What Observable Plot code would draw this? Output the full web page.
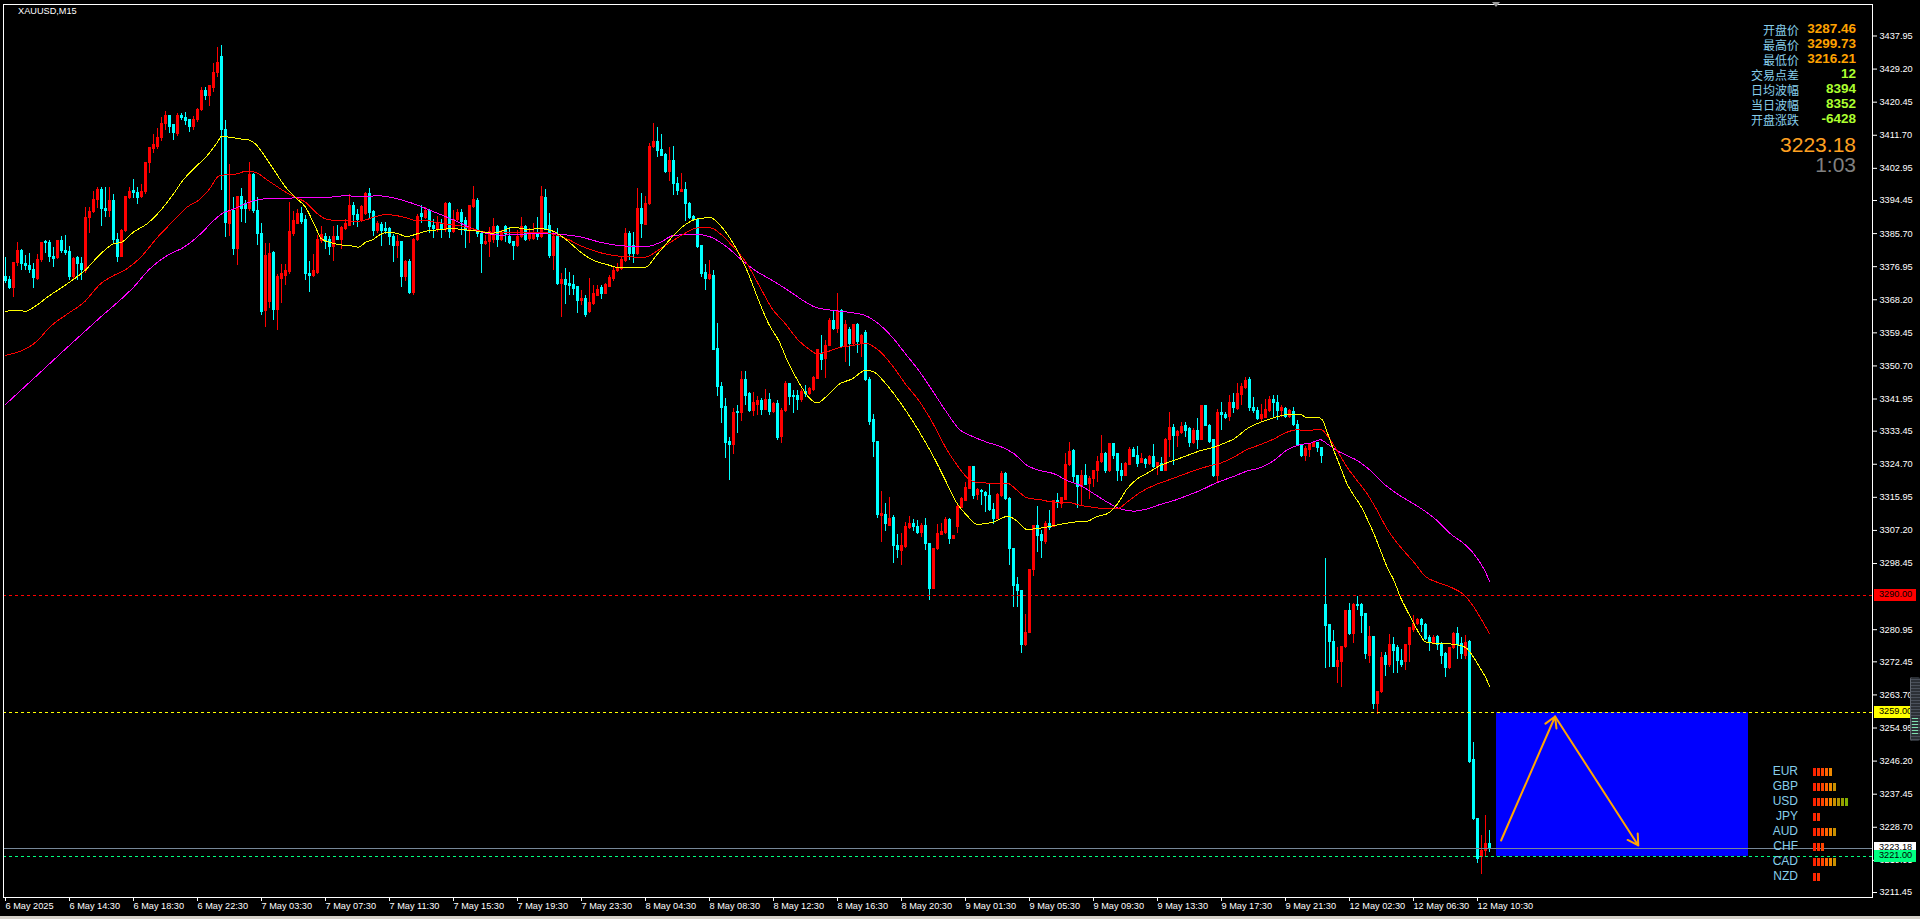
<!DOCTYPE html>
<html><head><meta charset="utf-8">
<script src="https://cdn.jsdelivr.net/npm/d3@7"></script>
<script src="https://cdn.jsdelivr.net/npm/@observablehq/plot@0.6"></script>
<style>
html,body{margin:0;padding:0;background:#000;overflow:hidden;}
#wrap{position:relative;width:1920px;height:919px;background:#000;}
#wrap svg{position:absolute;left:0;top:0;}
.ov{position:absolute;white-space:nowrap;}
</style></head><body><div id="wrap"></div>
<script>
// ---- XAUUSD M15 candles (bar index 0 = 6 May 10:30) ----
const open = [
3374.3,3373.3,3371.3,3377.9,3381.0,3377.7,3377.1,3376.0,3373.6,3378.6,
3383.6,3383.3,3379.6,3379.3,3383.8,3381.2,3380.8,3374.3,3379.2,3377.7,
3375.9,3389.8,3391.3,3394.6,3397.1,3392.3,3391.6,3394.4,3384.0,3379.6,
3386.5,3395.1,3397.0,3396.5,3395.3,3396.6,3404.3,3408.0,3408.7,3410.9,
3414.7,3416.9,3414.3,3412.0,3416.9,3416.3,3415.8,3413.8,3415.8,3418.4,
3423.3,3422.0,3424.2,3428.1,3432.4,3413.0,3388.3,3391.8,3381.6,3395.5,
3393.5,3392.2,3401.1,3391.8,3385.6,3365.2,3367.6,3380.5,3365.4,3373.8,
3374.6,3375.5,3385.6,3388.3,3390.9,3389.2,3375.1,3374.6,3375.3,3383.7,
3384.9,3383.9,3382.1,3384.9,3384.0,3386.9,3387.8,3393.1,3390.5,3389.2,
3390.9,3396.2,3391.4,3386.3,3388.1,3387.0,3387.0,3384.9,3382.5,3383.6,
3374.2,3378.3,3370.0,3384.1,3390.8,3389.9,3391.6,3387.8,3387.0,3388.3,
3386.7,3393.6,3386.1,3389.2,3391.1,3388.9,3386.5,3392.7,3394.4,3385.6,
3383.0,3383.4,3383.9,3387.4,3384.0,3387.4,3384.9,3383.4,3382.3,3384.9,
3387.4,3384.3,3384.3,3385.5,3384.9,3395.2,3387.6,3379.9,3384.8,3372.4,
3373.3,3372.4,3372.2,3371.5,3367.8,3368.4,3364.9,3367.1,3369.3,3371.3,
3369.8,3371.7,3373.7,3375.7,3376.4,3378.4,3385.5,3382.5,3380.2,3392.2,
3388.1,3393.4,3408.7,3409.9,3407.8,3406.6,3401.9,3405.0,3398.9,3396.7,
3397.1,3393.6,3390.2,3389.3,3382.3,3375.2,3373.6,3374.6,3355.2,3345.1,
3339.8,3330.5,3329.7,3338.5,3338.2,3346.9,3343.3,3338.9,3340.5,3341.3,
3339.1,3341.8,3338.4,3340.7,3331.9,3338.7,3345.8,3342.7,3342.7,3341.6,
3343.9,3343.2,3344.4,3347.3,3353.5,3352.6,3356.1,3362.5,3360.5,3365.2,
3355.7,3360.2,3356.4,3361.4,3356.6,3359.4,3346.9,3336.3,3330.5,3310.9,
3311.4,3308.5,3310.5,3303.2,3301.7,3302.9,3307.9,3308.8,3308.2,3306.5,
3308.5,3303.6,3291.8,3302.2,3306.1,3306.5,3310.0,3305.0,3308.1,3313.2,
3315.1,3318.2,3323.9,3316.7,3317.6,3317.0,3316.4,3312.6,3310.3,3316.4,
3322.2,3315.5,3302.3,3292.9,3291.3,3276.8,3280.1,3296.8,3308.4,3305.9,
3304.1,3308.8,3308.2,3315.1,3314.2,3315.3,3324.4,3328.1,3321.5,3318.8,
3321.5,3319.5,3320.7,3322.9,3325.2,3327.3,3322.8,3330.1,3327.3,3323.0,
3321.7,3324.6,3328.6,3327.0,3325.1,3325.7,3324.8,3326.6,3324.1,3324.8,
3323.0,3331.0,3334.2,3332.3,3332.9,3334.7,3334.1,3330.3,3333.6,3331.2,
3340.0,3334.9,3331.0,3321.5,3338.2,3337.8,3337.1,3340.9,3339.2,3342.9,
3344.9,3347.0,3339.6,3338.9,3336.7,3337.0,3338.9,3341.6,3340.9,3338.7,
3339.4,3337.1,3338.5,3335.2,3329.7,3327.0,3328.6,3329.2,3330.3,3329.0,
3287.46,3282.1,3277.7,3271.2,3272.4,3276.3,3285.8,3279.9,3287.5,3287.5,
3285.0,3274.1,3279.1,3261.3,3264.4,3274.1,3271.5,3277.0,3276.1,3272.8,
3272.4,3276.8,3280.9,3282.4,3283.4,3282.3,3278.7,3277.4,3279.0,3277.0,
3274.4,3270.8,3276.1,3279.7,3277.2,3274.1,3277.7,3246.4,3230.9,3220.8,
3222.5,3224.3
];
const high = [
3379.4,3374.3,3378.0,3383.3,3381.5,3379.9,3380.5,3377.7,3380.1,3383.3,
3383.9,3383.9,3382.1,3384.0,3384.9,3385.2,3382.3,3379.4,3379.6,3379.4,
3392.7,3392.7,3396.8,3397.9,3397.9,3398.0,3397.9,3396.0,3385.6,3386.7,
3395.3,3398.0,3400.0,3398.0,3398.8,3404.3,3408.3,3412.0,3413.4,3416.3,
3418.0,3417.0,3414.5,3417.4,3417.4,3417.8,3416.0,3416.7,3418.7,3424.4,
3424.4,3424.6,3430.6,3435.0,3435.5,3415.6,3404.0,3395.3,3395.5,3397.5,
3394.5,3404.6,3401.5,3395.2,3388.3,3383.0,3383.0,3381.0,3375.0,3377.5,
3377.5,3394.0,3391.5,3392.2,3392.7,3390.5,3378.3,3380.2,3385.2,3387.6,
3385.6,3384.9,3387.6,3387.8,3387.6,3389.3,3396.0,3394.0,3392.2,3393.1,
3396.6,3397.5,3391.8,3389.0,3388.7,3388.5,3387.2,3385.4,3385.2,3383.6,
3378.6,3378.9,3384.3,3390.8,3393.1,3392.7,3392.2,3389.5,3390.2,3389.3,
3394.0,3393.8,3391.8,3392.0,3392.0,3390.0,3393.1,3398.1,3394.9,3385.8,
3385.2,3387.4,3389.6,3387.8,3386.5,3387.8,3387.4,3383.6,3386.5,3390.0,
3387.8,3387.0,3388.3,3390.0,3398.1,3397.4,3390.9,3386.1,3387.0,3375.1,
3376.4,3375.5,3374.6,3371.6,3370.6,3369.3,3373.7,3372.0,3372.1,3372.1,
3372.4,3374.6,3376.8,3377.7,3379.5,3387.0,3386.3,3386.1,3397.5,3396.2,
3395.5,3409.6,3414.9,3413.7,3411.9,3406.8,3408.4,3408.6,3400.6,3401.7,
3399.3,3394.0,3390.5,3389.5,3382.5,3377.5,3378.6,3375.9,3361.8,3346.4,
3342.0,3331.7,3339.4,3340.2,3349.1,3349.3,3343.8,3343.8,3342.7,3342.0,
3344.4,3343.3,3341.1,3341.6,3339.4,3346.7,3346.0,3344.2,3344.2,3344.4,
3345.5,3345.1,3347.9,3354.9,3358.7,3357.4,3363.2,3365.2,3369.8,3365.5,
3362.7,3360.8,3361.7,3362.0,3359.0,3360.1,3347.7,3337.9,3330.6,3317.6,
3314.4,3315.8,3311.2,3306.1,3306.3,3309.4,3311.0,3310.0,3309.7,3309.1,
3310.3,3303.7,3302.5,3308.9,3309.1,3310.7,3310.3,3305.9,3314.1,3316.0,
3320.0,3324.2,3324.2,3318.2,3317.9,3317.4,3319.5,3314.2,3316.9,3322.9,
3322.6,3316.0,3302.4,3294.8,3291.4,3285.0,3296.9,3308.5,3313.5,3307.2,
3309.6,3312.6,3315.0,3317.0,3316.0,3327.5,3330.5,3328.5,3321.7,3323.0,
3324.6,3321.5,3323.0,3326.7,3332.3,3327.9,3330.3,3330.3,3327.3,3325.0,
3325.2,3329.2,3329.2,3329.4,3327.5,3326.1,3327.0,3329.9,3325.2,3326.4,
3331.4,3338.5,3335.2,3333.6,3335.8,3335.7,3334.5,3334.2,3336.7,3340.2,
3340.1,3335.2,3331.2,3339.3,3341.1,3338.5,3342.9,3343.3,3346.0,3346.0,
3347.7,3347.7,3342.3,3339.8,3340.5,3341.7,3342.6,3342.9,3342.9,3340.2,
3339.6,3339.1,3339.8,3336.3,3329.9,3329.4,3330.3,3330.5,3330.5,3329.2,
3299.73,3282.2,3280.7,3276.3,3276.4,3286.0,3287.8,3287.8,3289.7,3287.8,
3285.1,3281.8,3279.2,3264.6,3275.0,3275.0,3279.7,3278.9,3276.8,3275.8,
3277.1,3281.4,3284.7,3283.8,3283.8,3282.5,3279.4,3279.4,3279.4,3277.6,
3275.0,3276.3,3280.3,3281.4,3279.0,3279.4,3278.0,3251.2,3231.0,3226.5,
3231.8,3227.8
];
const low = [
3372.6,3371.0,3368.9,3377.0,3376.0,3376.0,3375.2,3371.3,3373.3,3378.0,
3380.5,3378.1,3376.6,3378.8,3380.5,3380.0,3373.4,3373.6,3373.3,3373.4,
3375.2,3385.6,3391.1,3392.3,3387.6,3390.0,3390.0,3383.0,3378.1,3379.3,
3386.0,3394.6,3395.0,3393.3,3395.0,3396.0,3401.5,3407.0,3408.0,3410.0,
3413.0,3412.2,3410.3,3411.3,3415.6,3414.4,3412.5,3413.0,3415.0,3418.0,
3421.0,3419.3,3423.0,3427.0,3397.0,3384.7,3385.0,3380.0,3377.2,3388.7,
3388.4,3391.5,3391.0,3382.5,3364.0,3360.9,3366.0,3362.6,3360.0,3367.1,
3372.0,3375.0,3385.0,3388.0,3388.0,3373.3,3370.0,3374.1,3375.0,3383.0,
3381.4,3379.9,3378.3,3383.9,3381.4,3386.5,3387.5,3387.8,3387.4,3388.5,
3390.5,3389.6,3385.0,3385.8,3382.3,3385.5,3382.5,3378.0,3379.0,3371.5,
3373.0,3369.6,3369.3,3383.5,3388.3,3389.5,3385.6,3384.3,3386.0,3384.3,
3386.0,3384.3,3385.6,3388.8,3385.2,3381.7,3383.0,3392.3,3384.7,3375.2,
3382.5,3379.5,3383.0,3381.9,3383.5,3383.4,3382.8,3378.6,3382.0,3384.5,
3383.5,3383.7,3384.0,3383.9,3384.5,3386.5,3379.0,3375.9,3372.0,3363.6,
3366.9,3369.3,3369.3,3364.5,3366.7,3363.6,3364.5,3366.8,3369.0,3368.4,
3369.5,3371.4,3372.9,3375.4,3376.0,3378.0,3378.6,3377.7,3379.8,3384.3,
3387.8,3393.0,3408.1,3405.9,3406.0,3401.5,3399.6,3395.8,3395.8,3396.5,
3389.0,3389.5,3388.9,3381.8,3374.2,3370.6,3373.3,3354.8,3342.7,3335.4,
3326.1,3320.4,3327.2,3332.9,3336.1,3340.2,3338.5,3337.2,3337.6,3337.6,
3338.8,3337.6,3338.0,3331.0,3330.3,3338.4,3340.2,3338.2,3338.9,3340.9,
3342.4,3342.8,3344.0,3347.0,3349.5,3347.3,3355.8,3360.2,3359.2,3355.5,
3351.7,3350.6,3356.0,3353.9,3353.0,3346.5,3334.9,3326.6,3310.3,3304.1,
3307.0,3308.2,3298.4,3299.7,3297.9,3302.5,3307.5,3306.8,3306.2,3305.4,
3301.9,3288.7,3291.5,3302.0,3305.8,3306.2,3303.6,3304.7,3306.3,3312.9,
3314.8,3318.0,3315.3,3315.1,3313.8,3312.0,3312.3,3308.8,3310.0,3316.0,
3315.0,3297.9,3286.7,3286.7,3274.6,3276.6,3279.9,3295.0,3301.4,3299.7,
3303.6,3307.2,3308.0,3312.9,3312.9,3315.0,3324.0,3320.0,3312.9,3313.8,
3319.0,3315.3,3318.6,3320.0,3325.0,3322.2,3322.5,3325.9,3320.2,3320.2,
3321.5,3324.3,3326.4,3323.9,3324.9,3323.7,3324.5,3323.5,3321.7,3322.9,
3322.8,3326.6,3324.4,3329.2,3332.7,3331.9,3329.0,3330.0,3328.6,3331.0,
3334.6,3330.2,3321.2,3320.0,3333.6,3336.5,3336.1,3338.0,3339.0,3340.2,
3344.5,3338.7,3338.0,3336.3,3336.1,3336.8,3338.5,3337.1,3336.3,3337.1,
3336.9,3336.8,3334.7,3329.4,3326.4,3325.5,3326.4,3329.0,3327.9,3325.0,
3270.8,3271.0,3271.0,3266.6,3265.7,3276.0,3279.5,3277.4,3286.0,3279.9,
3273.2,3271.9,3259.8,3258.5,3264.0,3268.6,3271.0,3269.3,3269.3,3271.0,
3270.2,3272.4,3280.3,3282.0,3280.3,3278.1,3275.2,3277.0,3275.4,3271.7,
3268.4,3270.5,3275.8,3273.1,3273.2,3273.2,3245.6,3230.5,3219.0,3216.21,
3220.8,3222.0
];
const close = [
3373.1,3371.3,3377.9,3381.0,3377.7,3377.1,3376.1,3373.9,3378.7,3383.3,
3383.1,3379.4,3379.1,3383.8,3381.2,3380.5,3374.3,3379.0,3377.7,3376.1,
3389.8,3391.4,3394.6,3397.1,3392.3,3391.6,3394.4,3383.9,3379.6,3386.5,
3395.3,3396.8,3396.4,3395.1,3396.8,3404.3,3408.3,3409.0,3410.9,3414.7,
3416.9,3414.0,3412.2,3416.9,3416.3,3415.6,3413.8,3415.8,3418.4,3423.3,
3422.0,3424.6,3428.1,3430.8,3413.0,3388.5,3391.8,3381.6,3395.5,3392.2,
3392.2,3401.1,3391.8,3385.6,3364.9,3379.9,3380.3,3365.4,3374.2,3375.1,
3375.7,3386.1,3388.9,3390.9,3388.7,3375.1,3374.4,3375.7,3383.9,3385.2,
3383.6,3382.1,3384.8,3384.0,3387.1,3388.3,3393.1,3390.5,3389.2,3392.7,
3396.2,3391.1,3386.3,3388.3,3386.5,3386.5,3384.9,3382.5,3383.6,3374.2,
3378.3,3370.0,3383.9,3390.2,3390.0,3391.6,3387.4,3387.0,3388.3,3386.7,
3393.6,3386.1,3389.2,3391.1,3388.7,3386.5,3393.1,3394.6,3385.6,3383.0,
3383.4,3386.1,3387.4,3384.1,3385.6,3385.6,3383.2,3382.3,3384.8,3387.4,
3384.0,3385.6,3385.5,3384.9,3395.5,3387.0,3379.7,3384.8,3372.4,3373.3,
3372.0,3371.8,3371.1,3368.0,3368.4,3364.3,3367.3,3369.8,3370.8,3369.8,
3372.0,3374.0,3375.9,3376.6,3378.6,3385.5,3380.2,3380.2,3392.2,3388.3,
3393.6,3408.7,3409.9,3407.5,3406.3,3401.9,3405.0,3398.9,3396.9,3397.1,
3393.4,3389.9,3389.2,3382.1,3374.9,3373.7,3374.8,3355.0,3345.1,3339.5,
3330.3,3329.8,3338.3,3338.2,3346.9,3342.7,3338.9,3340.9,3341.3,3339.1,
3341.8,3338.4,3340.7,3331.7,3338.9,3345.8,3342.6,3342.4,3341.6,3343.9,
3343.2,3344.6,3347.5,3354.8,3352.3,3356.1,3362.7,3360.5,3365.2,3355.8,
3361.4,3356.6,3361.4,3357.0,3358.7,3346.9,3335.8,3330.5,3311.2,3311.6,
3308.8,3310.3,3303.2,3301.9,3303.0,3308.2,3308.8,3308.1,3306.5,3308.5,
3303.6,3291.8,3302.2,3306.3,3306.9,3310.0,3305.0,3305.7,3313.5,3315.5,
3318.5,3323.9,3316.4,3317.8,3317.3,3316.4,3312.5,3310.2,3316.7,3322.2,
3315.4,3302.3,3292.4,3291.1,3276.9,3280.1,3296.8,3308.4,3305.6,3304.4,
3308.9,3307.9,3314.9,3314.6,3315.8,3324.6,3327.9,3321.3,3318.8,3321.5,
3319.3,3320.8,3323.0,3325.4,3327.3,3322.8,3330.1,3327.0,3323.0,3321.7,
3324.8,3328.6,3326.7,3324.8,3326.0,3324.8,3326.6,3323.9,3325.0,3323.0,
3331.2,3334.2,3332.3,3333.2,3334.5,3333.6,3330.3,3333.6,3331.2,3340.0,
3334.9,3330.5,3321.5,3338.2,3337.6,3336.9,3340.9,3339.6,3343.3,3345.1,
3346.8,3339.6,3338.7,3336.7,3337.6,3339.1,3341.6,3340.9,3338.7,3339.6,
3337.3,3338.7,3335.0,3329.7,3327.0,3328.8,3329.7,3330.3,3329.0,3327.0,
3281.8,3277.7,3271.2,3272.6,3276.3,3285.8,3279.9,3287.5,3287.1,3284.7,
3274.6,3279.1,3261.3,3264.4,3273.5,3271.5,3277.0,3275.4,3272.8,3271.7,
3277.0,3281.3,3282.5,3283.4,3282.1,3278.5,3277.4,3278.7,3277.0,3274.1,
3270.8,3276.1,3279.7,3277.0,3274.6,3277.4,3245.9,3230.9,3220.3,3222.5,
3224.3,3223.18
];

// ---- moving averages read at sample bars: [bar, price] ----
const maYellow = [[0,3365.2],[4,3365.3],[5,3365.1],[7,3366.2],[11,3369.3],[15.4,3372.4],[20,3376.1],[23.75,3380.3],[27,3383.0],[29,3383.4],[32,3386.1],[35.4,3388.3],[38.75,3391.8],[42,3396.2],[44,3399.3],[47,3402.8],[50.4,3406.3],[53,3409.9],[54,3411.4],[56,3411.2],[59,3410.7],[61,3410.4],[62.5,3409.4],[65,3405.9],[67.5,3401.9],[70,3398.0],[72.5,3395.2],[75,3392.7],[77.5,3387.4],[79,3384.3],[81.7,3383.2],[84,3382.7],[86.7,3382.4],[88.3,3382.1],[90,3383.4],[91.7,3384.0],[93.3,3385.2],[95.8,3386.1],[98.3,3385.6],[100.4,3384.9],[102.5,3385.5],[105,3386.3],[108.3,3386.7],[111.7,3387.0],[115,3386.7],[118.3,3386.3],[121.7,3385.8],[124.5,3386.5],[127,3387.4],[130.4,3386.8],[133.75,3387.0],[137,3386.3],[140.4,3383.9],[143.75,3380.8],[147,3378.6],[150.4,3377.5],[153.75,3376.6],[157,3376.6],[160,3376.8],[163,3380.3],[166.25,3384.3],[169.6,3387.8],[173,3389.6],[176.25,3389.9],[178.75,3387.8],[182,3383.0],[185.4,3375.9],[188.3,3368.0],[190.8,3361.8],[193.3,3357.4],[195.8,3351.3],[198.3,3346.4],[200.8,3342.4],[202.9,3340.9],[205,3342.4],[208.3,3345.8],[211.7,3347.3],[215,3349.5],[216.7,3349.3],[220,3346.1],[223.3,3341.6],[226.7,3336.3],[230,3330.5],[232.5,3325.7],[235,3320.4],[237.5,3315.0],[240.4,3311.1],[242.9,3308.8],[245.4,3309.1],[247.1,3309.4],[248.75,3310.3],[250.4,3310.9],[252.1,3310.3],[253.75,3308.8],[255.4,3307.4],[257.1,3307.6],[260.4,3308.1],[263.75,3308.8],[267.1,3309.4],[270.4,3309.6],[272.9,3310.9],[275.4,3311.6],[277.9,3314.1],[280.4,3318.2],[282.9,3320.8],[285.4,3322.3],[288.75,3324.4],[292.1,3325.7],[295.4,3327.0],[298.75,3328.3],[302.1,3329.2],[304.5,3330.2],[307.1,3331.4],[310.4,3334.1],[313.75,3335.8],[317.1,3337.0],[320.4,3337.8],[323.75,3337.8],[325.4,3337.0],[327.9,3337.1],[329.2,3336.5],[330.4,3333.2],[332.1,3328.3],[333.75,3323.9],[335.4,3319.5],[337.1,3316.4],[338.75,3313.8],[340.4,3310.3],[342.1,3306.3],[343.75,3301.9],[345.4,3297.5],[347.1,3294.0],[348.75,3289.5],[350.4,3286.0],[352.1,3282.5],[353.75,3279.4],[355,3277.7],[357.1,3277.4],[360.4,3277.4],[362.1,3277.0],[363.75,3276.8],[365.4,3275.9],[367.1,3273.5],[368.75,3270.6],[370,3268.4],[371,3265.9]];
const maRed = [[0,3353.5],[8,3357.4],[11,3360.9],[15.4,3364.4],[19.6,3367.5],[23.75,3372.4],[27,3374.6],[29.6,3375.9],[33.75,3379.4],[38,3384.7],[42,3389.1],[45.4,3392.7],[48.75,3394.9],[51,3397.5],[53.3,3400.9],[55.4,3401.3],[58,3401.5],[60,3402.2],[62.5,3401.9],[65,3400.2],[67.5,3398.4],[70,3396.7],[72.5,3395.3],[75,3394.0],[77.5,3391.4],[80,3389.6],[82.5,3389.2],[85,3389.2],[87.5,3388.9],[90,3389.3],[92.5,3390.2],[95,3390.7],[97.5,3390.5],[100,3389.9],[102.5,3389.2],[105,3389.2],[107.5,3388.7],[110,3388.3],[113.3,3387.8],[116.7,3387.0],[120,3386.1],[123.75,3386.1],[128.75,3386.1],[133.75,3386.1],[137,3385.5],[140.4,3384.3],[143.75,3382.5],[147,3381.2],[150.4,3380.2],[153.75,3379.7],[157,3379.5],[160,3379.5],[163,3381.2],[166.25,3383.4],[169.6,3385.6],[173,3387.2],[176.25,3387.2],[178.75,3385.6],[182,3382.1],[185.4,3377.7],[188.5,3371.8],[191.7,3365.8],[195,3361.8],[198.3,3357.4],[200.8,3355.2],[202.9,3353.9],[205,3354.3],[208.3,3355.5],[211.7,3356.1],[215,3356.7],[218.3,3354.8],[221.7,3350.8],[225,3345.9],[228.3,3341.6],[231.7,3335.8],[235,3329.2],[238.3,3323.9],[241.25,3320.4],[243.75,3319.8],[247.1,3319.7],[250.4,3319.7],[252.9,3317.8],[255.4,3315.8],[258.75,3315.3],[262.1,3314.7],[265.4,3314.7],[268.75,3313.8],[272.1,3313.3],[275.4,3312.9],[277.9,3312.9],[280.4,3314.7],[283.75,3317.3],[287.1,3319.1],[290.4,3320.4],[293.75,3321.7],[297.1,3323.0],[300.4,3324.1],[303.75,3325.0],[307.1,3326.6],[310.4,3328.6],[313.75,3329.9],[317.1,3331.4],[320.4,3333.2],[322.9,3333.8],[325.4,3333.6],[328.75,3334.0],[330.4,3332.3],[332.9,3328.3],[335.4,3323.9],[337.9,3320.4],[340.4,3316.9],[342.9,3312.5],[345.4,3307.6],[348.75,3302.8],[352.1,3298.8],[355,3295.0],[357.9,3293.5],[361.25,3292.2],[364.6,3290.2],[367.1,3286.9],[369.6,3282.5],[371,3279.9]];
const maMagenta = [[0,3340.5],[9,3349.3],[17.5,3357.6],[19.6,3359.6],[23.75,3363.6],[28,3367.5],[32,3371.5],[36,3376.3],[40.4,3379.9],[44.6,3382.1],[48.75,3385.6],[52,3389.1],[54,3390.9],[57,3392.2],[61,3394.0],[65,3394.9],[70,3394.9],[73.3,3395.3],[76.7,3395.2],[80.8,3395.3],[85,3395.7],[89.2,3395.5],[93.3,3395.7],[96.7,3395.2],[100,3394.3],[103.3,3393.1],[106.7,3391.6],[110,3390.2],[113.3,3388.7],[116.7,3387.0],[120,3385.8],[123.75,3385.3],[128.75,3385.5],[133.75,3385.8],[138.75,3385.5],[143.75,3384.8],[148.75,3383.4],[153.75,3382.5],[157,3382.3],[160.4,3382.3],[163.75,3383.4],[167,3385.2],[170.4,3385.4],[173.75,3385.4],[176.25,3384.8],[180.4,3382.1],[183.75,3379.0],[187.5,3375.9],[191.7,3373.3],[195.8,3370.6],[200,3367.6],[202.5,3366.2],[206.7,3365.4],[210.8,3364.9],[215,3364.0],[218.3,3361.8],[221.7,3358.3],[225,3353.9],[228.3,3349.5],[231.7,3344.2],[235,3338.9],[238.3,3334.1],[242.1,3331.9],[245.4,3330.5],[248.75,3329.4],[252.1,3327.5],[255.4,3324.4],[258.75,3323.0],[262.1,3322.2],[265.4,3320.4],[268.75,3319.1],[272.1,3316.9],[275.4,3314.7],[278.75,3312.9],[282.1,3312.3],[285.4,3312.9],[288.75,3314.1],[292.1,3315.1],[295.4,3316.4],[298.75,3317.8],[302.1,3319.5],[304.5,3320.5],[307.1,3321.5],[310.4,3322.9],[313.75,3323.8],[317.1,3325.7],[320.4,3328.5],[323.75,3329.9],[326.25,3330.3],[328.75,3331.2],[330.4,3330.1],[332.9,3328.3],[335.4,3327.0],[337.9,3325.7],[341.25,3323.0],[344.6,3319.5],[347.9,3316.9],[351.25,3314.7],[354.6,3312.5],[357.9,3309.8],[361.25,3306.3],[364.6,3303.7],[367.1,3301.0],[369.6,3297.0],[371,3293.8]];

// ---- levels, zone, arrows ----
const levelRed = 3290.00, levelYellow = 3259.00, levelGreen = 3221.00, bidPrice = 3223.18;
const zone = [{x1: 372.75, x2: 435.75, y1: 3221.0, y2: 3259.0}];
const arrows = [{x1: 373.9, y1: 3225.2, x2: 387.4, y2: 3258.0}, {x1: 387.4, y1: 3258.0, x2: 408.2, y2: 3223.9}];

// ---- axes ----
const yTicks = [3437.95,3429.20,3420.45,3411.70,3402.95,3394.45,3385.70,3376.95,3368.20,3359.45,3350.70,3341.95,3333.45,3324.70,3315.95,3307.20,3298.45,3280.95,3272.45,3263.70,3254.95,3246.20,3237.45,3228.70,3219.95,3211.45];
const timeTickBars = [0,16,32,48,64,80,96,112,128,144,160,176,192,208,224,240,256,272,288,304,320,336,352,368];
const timeTickLabels = ["6 May 2025","6 May 14:30","6 May 18:30","6 May 22:30","7 May 03:30","7 May 07:30","7 May 11:30","7 May 15:30","7 May 19:30","7 May 23:30","8 May 04:30","8 May 08:30","8 May 12:30","8 May 16:30","8 May 20:30","9 May 01:30","9 May 05:30","9 May 09:30","9 May 13:30","9 May 17:30","9 May 21:30","12 May 02:30","12 May 06:30","12 May 10:30"];

// ---- info panel ----
const infoLabels = ["开盘价","最高价","最低价","交易点差","日均波幅","当日波幅","开盘涨跌"];
const infoValues = ["3287.46","3299.73","3216.21","12","8394","8352","-6428"];
const infoColors = ["#ffa200","#ffa200","#ffa200","#adff2f","#adff2f","#adff2f","#adff2f"];
const currentPrice = "3223.18", countdown = "1:03";

// ---- currency strength ----
const currencies = ["EUR","GBP","USD","JPY","AUD","CHF","CAD","NZD"];
const strength = [5,6,9,2,6,3,6,2];
const strengthColors = ["#ff2200","#ff3300","#ff4400","#ff6400","#f08a00","#c89000","#b09400","#98a000","#80b000"];

// ---------------------------------------------------------------
const candles = open.map((o, i) => ({i, o, h: high[i], l: low[i], c: close[i]}));
const up = candles.filter(d => d.c > d.o);
const dn = candles.filter(d => d.c <= d.o);
const pts = a => a.map(([x, y]) => ({x, y}));
const labelOf = new Map(timeTickBars.map((b, k) => [b, timeTickLabels[k]]));
const FONT = "'Liberation Sans', Arial, sans-serif";

const chart = Plot.plot({
  width: 1920, height: 919,
  marginLeft: 3, marginRight: 48, marginTop: 4, marginBottom: 22,
  x: {domain: [-0.5, 466.75], axis: null},
  y: {domain: [3210.13, 3446.28], axis: null},
  style: {background: "#000", color: "#fff", fontFamily: FONT, fontSize: "9.2px", overflow: "visible"},
  marks: [
    Plot.rect(zone, {x1: "x1", x2: "x2", y1: "y1", y2: "y2", fill: "#0000ff"}),
    Plot.ruleX(up, {x: "i", y1: "l", y2: "h", stroke: "#ff0000", shapeRendering: "crispEdges"}),
    Plot.ruleX(dn, {x: "i", y1: "l", y2: "h", stroke: "#00ffff", shapeRendering: "crispEdges"}),
    Plot.rect(up, {x1: d => d.i - 0.25, x2: d => d.i + 0.25, y1: "o", y2: "c", fill: "#ff0000", stroke: "#ff0000", shapeRendering: "crispEdges"}),
    Plot.rect(dn, {x1: d => d.i - 0.25, x2: d => d.i + 0.25, y1: "o", y2: "c", fill: "#00ffff", stroke: "#00ffff", shapeRendering: "crispEdges"}),
    Plot.line(pts(maMagenta), {x: "x", y: "y", stroke: "#ff00ff", strokeWidth: 1, curve: "monotone-x", shapeRendering: "crispEdges"}),
    Plot.line(pts(maRed), {x: "x", y: "y", stroke: "#ff0000", strokeWidth: 1, curve: "monotone-x", shapeRendering: "crispEdges"}),
    Plot.line(pts(maYellow), {x: "x", y: "y", stroke: "#ffff00", strokeWidth: 1, curve: "monotone-x", shapeRendering: "crispEdges"}),
    Plot.ruleY([levelRed], {stroke: "#ff0000", strokeDasharray: "3,3", shapeRendering: "crispEdges"}),
    Plot.ruleY([levelYellow], {stroke: "#ffff00", strokeDasharray: "3,3", shapeRendering: "crispEdges"}),
    Plot.ruleY([bidPrice], {stroke: "#778899", shapeRendering: "crispEdges"}),
    Plot.ruleY([levelGreen], {stroke: "#00ff80", strokeDasharray: "3,3", shapeRendering: "crispEdges"}),
    Plot.arrow(arrows, {x1: "x1", y1: "y1", x2: "x2", y2: "y2", stroke: "#ffa500", strokeWidth: 2, headLength: 9}),
    Plot.frame({stroke: "#ffffff", shapeRendering: "crispEdges"}),
    Plot.axisY({ticks: yTicks, anchor: "right", tickSize: 4, tickPadding: 3, tickFormat: d => d.toFixed(2), fontSize: 9.2, label: null}),
    Plot.axisX({ticks: timeTickBars, anchor: "bottom", tickSize: 4, tickPadding: 1, tickFormat: b => labelOf.get(b), textAnchor: "start", fontSize: 9.2, label: null})
  ]
});

const wrap = document.getElementById("wrap");
wrap.appendChild(chart);
const ys = chart.scale("y");

function ov(text, css) {
  const d = document.createElement("div");
  d.className = "ov";
  d.textContent = text;
  Object.assign(d.style, css);
  wrap.appendChild(d);
  return d;
}

// title
ov("XAUUSD,M15", {left: "18px", top: "6px", height: "12px", lineHeight: "12px", font: "9.2px " + FONT, color: "#fff"});
// chart shift marker
ov("", {left: "1492px", top: "2px", width: "0", height: "0", borderLeft: "4px solid transparent", borderRight: "4px solid transparent", borderTop: "5px solid #9a9a9a"});

// info panel
infoLabels.forEach((lab, k) => {
  const yc = 29 + 15 * k;
  ov(lab, {right: (1920 - 1799) + "px", top: (yc - 8) + "px", height: "16px", lineHeight: "16px", font: "12px 'Noto Sans CJK SC', sans-serif", color: "#87ceeb"});
  ov(infoValues[k], {right: (1920 - 1856) + "px", top: (yc - 8) + "px", height: "16px", lineHeight: "16px", font: "bold 13.5px " + FONT, color: infoColors[k]});
});
ov(currentPrice, {right: (1920 - 1856) + "px", top: (144.7 - 12) + "px", height: "24px", lineHeight: "24px", font: "21px " + FONT, color: "#ffa020"});
ov(countdown, {right: (1920 - 1856) + "px", top: (164.8 - 12) + "px", height: "24px", lineHeight: "24px", font: "21px " + FONT, color: "#808080"});

// currency strength panel
currencies.forEach((cur, k) => {
  const yc = 771.7 + 15 * k;
  ov(cur, {right: (1920 - 1798) + "px", top: (yc - 8) + "px", height: "16px", lineHeight: "16px", font: "12px " + FONT, color: "#87ceeb"});
  for (let j = 0; j < strength[k]; j++) {
    ov("", {left: (1813 + 4 * j) + "px", top: Math.round(yc - 4) + "px", width: "3px", height: "8px", background: strengthColors[j]});
  }
});

// level labels on the price axis
const boxes = [
  {p: levelRed, bg: "#ff0000", t: "3290.00"},
  {p: levelYellow, bg: "#ffff00", t: "3259.00"},
  {p: bidPrice, bg: "#ffffff", t: "3223.18"},
  {p: levelGreen, bg: "#00ff80", t: "3221.00"}
];
boxes.forEach(b => {
  const y = ys.apply(b.p);
  ov(b.t, {left: "1874px", top: Math.round(y - 6) + "px", width: "37px", height: "12px", lineHeight: "12px", paddingLeft: "5px", background: b.bg, color: "#000", font: "9.2px " + FONT});
});

// scroll handle at right edge
ov("", {left: "1910px", top: "677px", width: "9px", height: "64px", background: "repeating-linear-gradient(#2c3036 0 2px,#4a505a 2px 3px)", borderLeft: "1px solid #60666f", borderRadius: "2px"});
ov("", {left: "1912px", top: "716px", width: "6px", height: "20px", background: "repeating-linear-gradient(#2c3036 0 2px,#7fe0b0 2px 3px)"});
// bottom window strip
ov("", {left: "0px", top: "916px", width: "1920px", height: "3px", background: "#d4d0c8"});

if (![high, low, close].every(a => a.length === open.length)) {
  ov("LEN " + [open.length, high.length, low.length, close.length].join(","), {left: "600px", top: "40px", color: "#f00", font: "20px sans-serif"});
}
</script></body></html>
